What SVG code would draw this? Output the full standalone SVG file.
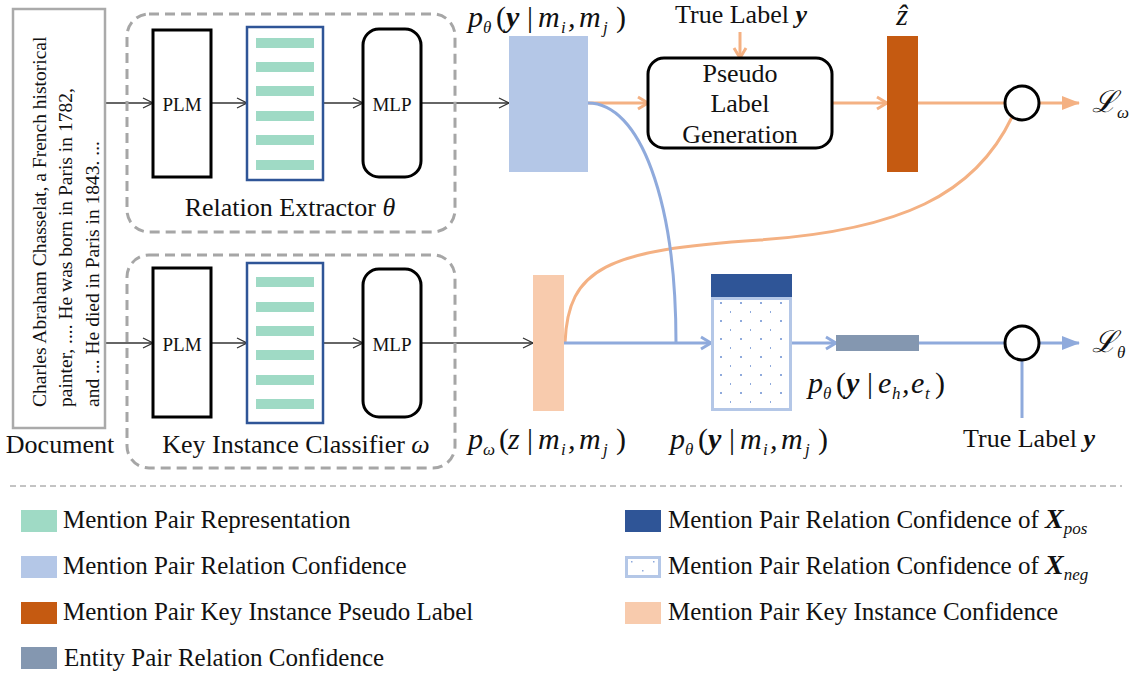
<svg xmlns="http://www.w3.org/2000/svg" width="1133" height="677" viewBox="0 0 1133 677">
<style>
text{font-family:"Liberation Serif","DejaVu Serif",serif;fill:#111;}
.lbl{font-size:25px;}
.big{font-size:26px;}
.sm{font-size:19px;}
.doc{font-size:19.5px;}
.m{font-size:30px;font-style:italic;}
.sub{font-size:17px;font-style:italic;}
.bi{font-weight:bold;font-style:italic;}
.up{font-style:normal;}
.thin{stroke:#333;stroke-width:1.3;fill:none;marker-end:url(#ah);}
.or{stroke:#f4b183;stroke-width:3;fill:none;}
.bl{stroke:#8faadc;stroke-width:3;fill:none;}
.dash{fill:none;stroke:#a6a6a6;stroke-width:3;stroke-dasharray:10 6;}
.blk{fill:#fff;stroke:#000;stroke-width:3;}
.feat{fill:#fff;stroke:#2f5597;stroke-width:2.5;}
.bar{fill:#9fdac5;}
</style>
<defs>
<marker id="ah" markerUnits="userSpaceOnUse" viewBox="0 0 12 12" refX="11" refY="6" markerWidth="12" markerHeight="12" orient="auto"><path d="M1,1 L11,6 L1,11" fill="none" stroke="#333" stroke-width="1.3"/></marker>
<marker id="oc" markerUnits="userSpaceOnUse" viewBox="0 0 14 16" refX="12" refY="8" markerWidth="14" markerHeight="16" orient="auto"><path d="M2,2 L12,8 L2,14" fill="none" stroke="#f4b183" stroke-width="3"/></marker>
<marker id="bc" markerUnits="userSpaceOnUse" viewBox="0 0 14 16" refX="12" refY="8" markerWidth="14" markerHeight="16" orient="auto"><path d="M2,2 L12,8 L2,14" fill="none" stroke="#8faadc" stroke-width="3"/></marker>
<marker id="ot" markerUnits="userSpaceOnUse" viewBox="0 0 18 14" refX="17" refY="7" markerWidth="18" markerHeight="14" orient="auto"><path d="M0,0 L18,7 L0,14 Z" fill="#f4b183"/></marker>
<marker id="bt" markerUnits="userSpaceOnUse" viewBox="0 0 18 14" refX="17" refY="7" markerWidth="18" markerHeight="14" orient="auto"><path d="M0,0 L18,7 L0,14 Z" fill="#8faadc"/></marker>
<pattern id="dots" patternUnits="userSpaceOnUse" x="711" y="297" width="20" height="18"><rect x="9" y="5" width="2" height="2" fill="#8faadc"/><rect x="19" y="14" width="2" height="2" fill="#8faadc"/></pattern>
</defs>

<g id="connectors">
<line class="thin" x1="105" y1="103" x2="153" y2="103"/>
<line class="thin" x1="211" y1="103" x2="247" y2="103"/>
<line class="thin" x1="323" y1="103" x2="363" y2="103"/>
<line class="thin" x1="421" y1="103" x2="509" y2="103"/>
<line class="thin" x1="105" y1="343" x2="153" y2="343"/>
<line class="thin" x1="211" y1="343" x2="247" y2="343"/>
<line class="thin" x1="323" y1="343" x2="363" y2="343"/>
<line class="thin" x1="421" y1="343" x2="533" y2="343"/>
<line class="or" x1="588" y1="103" x2="648" y2="103" marker-end="url(#oc)"/>
<line class="or" x1="740" y1="32" x2="740" y2="58" marker-end="url(#oc)"/>
<line class="or" x1="832" y1="103" x2="887" y2="103" marker-end="url(#oc)"/>
<line class="or" x1="918" y1="103" x2="1005" y2="103"/>
<line class="or" x1="1039" y1="103" x2="1079" y2="103" marker-end="url(#ot)"/>
<path class="or" d="M565,343 C568,268 606,250 760,240 C900,230 975,195 1012,117"/>
<path class="bl" d="M588,103 C640,103 676,200 676,343"/>
<line class="bl" x1="564" y1="343" x2="711" y2="343" marker-end="url(#bc)"/>
<line class="bl" x1="792" y1="343" x2="836" y2="343" marker-end="url(#bc)"/>
<line class="bl" x1="919" y1="343" x2="1005" y2="343"/>
<line class="bl" x1="1039" y1="343" x2="1079" y2="343" marker-end="url(#bt)"/>
<line class="bl" x1="1022" y1="360" x2="1022" y2="418"/>
</g>

<g id="document">
<rect x="13" y="9" width="92" height="419" fill="#fff" stroke="#aaa" stroke-width="2.5"/>
<text class="doc" transform="translate(46,407) rotate(-90)">Charles  Abraham Chasselat, a French historical</text>
<text class="doc" transform="translate(72,407) rotate(-90)">painter, .... He was born in Paris in 1782,</text>
<text class="doc" transform="translate(99,407) rotate(-90)">and ... He died in Paris in 1843. ...</text>
<text class="big" x="60" y="453" text-anchor="middle">Document</text>
</g>

<g id="relation-extractor">
<rect class="dash" x="127" y="14" width="328" height="218" rx="22"/>
<text class="big" x="290" y="216" text-anchor="middle">Relation Extractor <tspan font-style="italic">θ</tspan></text>
</g>
<g id="plm-top"><rect class="blk" x="153" y="30" width="58" height="147"/><text class="sm" x="182" y="111" text-anchor="middle">PLM</text></g>
<g id="feat-top"><rect class="feat" x="247" y="27" width="76" height="153"/>
<rect class="bar" x="256" y="38" width="58" height="10"/><rect class="bar" x="256" y="62" width="58" height="10"/><rect class="bar" x="256" y="86" width="58" height="10"/><rect class="bar" x="256" y="111" width="58" height="10"/><rect class="bar" x="256" y="135" width="58" height="10"/><rect class="bar" x="256" y="160" width="58" height="10"/></g>
<g id="mlp-top"><rect class="blk" x="363" y="29" width="58" height="148" rx="16"/><text class="sm" x="392" y="111" text-anchor="middle">MLP</text></g>

<g id="key-instance-classifier">
<rect class="dash" x="127" y="255" width="328" height="213" rx="22"/>
<text class="big" x="296" y="453" text-anchor="middle">Key Instance Classifier <tspan font-style="italic">ω</tspan></text>
</g>
<g id="plm-bot"><rect class="blk" x="153" y="268" width="58" height="149"/><text class="sm" x="182" y="351" text-anchor="middle">PLM</text></g>
<g id="feat-bot"><rect class="feat" x="247" y="263" width="76" height="160"/>
<rect class="bar" x="256" y="277" width="58" height="10"/><rect class="bar" x="256" y="302" width="58" height="10"/><rect class="bar" x="256" y="326" width="58" height="10"/><rect class="bar" x="256" y="350" width="58" height="10"/><rect class="bar" x="256" y="375" width="58" height="10"/><rect class="bar" x="256" y="399" width="58" height="10"/></g>
<g id="mlp-bot"><rect class="blk" x="363" y="269" width="58" height="148" rx="16"/><text class="sm" x="392" y="351" text-anchor="middle">MLP</text></g>

<g id="mention-conf">
<rect x="509" y="36" width="79" height="136" fill="#b4c7e7"/>
<text class="m" y="27"><tspan x="468">p</tspan><tspan class="sub" x="483" y="33">θ</tspan><tspan class="up" x="496" y="27">(</tspan><tspan class="bi" x="506">y</tspan><tspan class="up" x="527">|</tspan><tspan x="538">m</tspan><tspan class="sub" x="561" y="33">i</tspan><tspan x="568" y="27">,</tspan><tspan x="579">m</tspan><tspan class="sub" x="603" y="33">j</tspan><tspan class="up" x="616" y="27">)</tspan></text>
</g>

<g id="pseudo-label-gen">
<rect class="blk" x="648" y="58" width="184" height="90" rx="16"/>
<text class="big" x="740" y="82" text-anchor="middle">Pseudo</text>
<text class="big" x="740" y="112" text-anchor="middle">Label</text>
<text class="big" x="740" y="143" text-anchor="middle">Generation</text>
<text class="big" x="741" y="23" text-anchor="middle">True Label <tspan class="bi">y</tspan></text>
</g>

<g id="zhat">
<rect x="887" y="36" width="31" height="136" fill="#c55a11"/>
<text class="m" x="902" y="25" text-anchor="middle">ẑ</text>
</g>

<g id="loss-omega">
<circle cx="1022" cy="103" r="17" fill="#fff" stroke="#000" stroke-width="3"/>
<text class="m" x="1092" y="112">ℒ<tspan class="sub" dy="6">ω</tspan></text>
</g>

<g id="key-conf">
<rect x="533" y="275" width="31" height="136" fill="#f8cbad"/>
<text class="m" y="449"><tspan x="468">p</tspan><tspan class="sub" x="483" y="455">ω</tspan><tspan class="up" x="499" y="449">(</tspan><tspan x="508">z</tspan><tspan class="up" x="527">|</tspan><tspan x="538">m</tspan><tspan class="sub" x="561" y="455">i</tspan><tspan x="568" y="449">,</tspan><tspan x="579">m</tspan><tspan class="sub" x="603" y="455">j</tspan><tspan class="up" x="616" y="449">)</tspan></text>
</g>

<g id="stacked-conf">
<rect x="711" y="274" width="81" height="23" fill="#2f5597"/>
<rect x="712.5" y="298.5" width="78" height="111" fill="url(#dots)" stroke="#b4c7e7" stroke-width="3"/>
<text class="m" y="449"><tspan x="670">p</tspan><tspan class="sub" x="685" y="455">θ</tspan><tspan class="up" x="698" y="449">(</tspan><tspan class="bi" x="708">y</tspan><tspan class="up" x="729">|</tspan><tspan x="740">m</tspan><tspan class="sub" x="763" y="455">i</tspan><tspan x="770" y="449">,</tspan><tspan x="781">m</tspan><tspan class="sub" x="805" y="455">j</tspan><tspan class="up" x="818" y="449">)</tspan></text>
</g>

<g id="entity-conf">
<rect x="836" y="335" width="83" height="16" fill="#8497b0"/>
<text class="m" y="393"><tspan x="808">p</tspan><tspan class="sub" x="823" y="399">θ</tspan><tspan class="up" x="836" y="393">(</tspan><tspan class="bi" x="846">y</tspan><tspan class="up" x="867">|</tspan><tspan x="878">e</tspan><tspan class="sub" x="892" y="399">h</tspan><tspan x="902" y="393">,</tspan><tspan x="911">e</tspan><tspan class="sub" x="925" y="399">t</tspan><tspan class="up" x="935" y="393">)</tspan></text>
</g>

<g id="loss-theta">
<circle cx="1022" cy="343" r="17" fill="#fff" stroke="#000" stroke-width="3"/>
<text class="m" x="1092" y="352">ℒ<tspan class="sub" dy="6">θ</tspan></text>
<text class="big" x="1029" y="447" text-anchor="middle">True Label <tspan class="bi">y</tspan></text>
</g>

<line x1="10" y1="486" x2="1122" y2="486" stroke="#888" stroke-width="1" stroke-dasharray="6 4"/>

<g id="legend">
<rect x="21" y="510" width="36" height="22" fill="#9fdac5"/><text class="lbl" x="63" y="528">Mention Pair Representation</text>
<rect x="21" y="556" width="36" height="22" fill="#b4c7e7"/><text class="lbl" x="63" y="574">Mention Pair Relation Confidence</text>
<rect x="21" y="602" width="36" height="22" fill="#c55a11"/><text class="lbl" x="63" y="620">Mention Pair Key Instance Pseudo Label</text>
<rect x="21" y="647" width="36" height="22" fill="#8497b0"/><text class="lbl" x="64" y="666">Entity Pair Relation Confidence</text>
<rect x="625" y="510" width="36" height="22" fill="#2f5597"/><text class="lbl" x="668" y="528">Mention Pair Relation Confidence of  <tspan class="bi" font-size="28">X</tspan><tspan class="sub" font-size="13" dy="6">pos</tspan></text>
<rect x="626.5" y="557.5" width="33" height="19" fill="#fff" stroke="#b4c7e7" stroke-width="3"/>
<rect x="631" y="561" width="1.5" height="1.5" fill="#8faadc"/><rect x="653" y="561" width="1.5" height="1.5" fill="#8faadc"/><rect x="642" y="570" width="1.5" height="1.5" fill="#8faadc"/>
<text class="lbl" x="668" y="574">Mention Pair Relation Confidence of  <tspan class="bi" font-size="28">X</tspan><tspan class="sub" font-size="13" dy="6">neg</tspan></text>
<rect x="625" y="602" width="36" height="22" fill="#f8cbad"/><text class="lbl" x="668" y="620">Mention Pair Key Instance Confidence</text>
</g>
</svg>
